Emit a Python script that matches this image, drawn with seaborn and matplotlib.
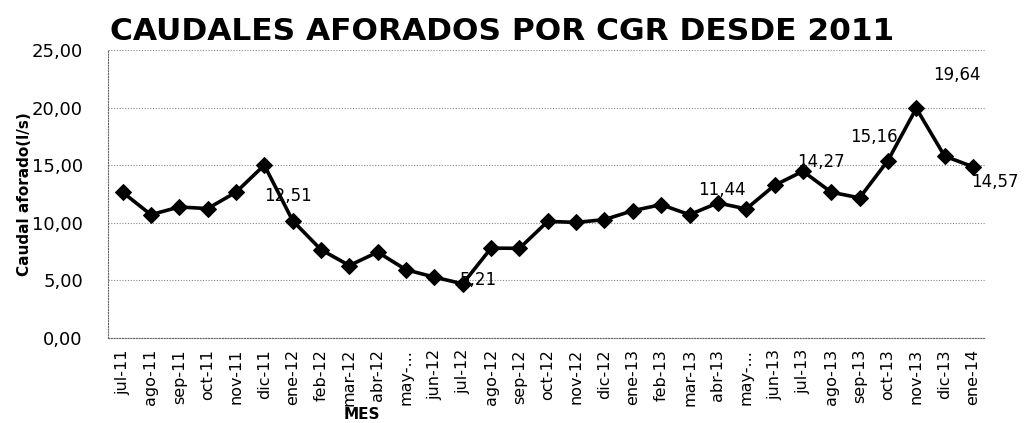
import matplotlib
matplotlib.use("Agg")
import matplotlib.pyplot as plt
import seaborn as sns
from matplotlib.ticker import FuncFormatter

# Datos
meses = ["jul-11", "ago-11", "sep-11", "oct-11", "nov-11", "dic-11",
         "ene-12", "feb-12", "mar-12", "abr-12", "may-...", "jun-12",
         "jul-12", "ago-12", "sep-12", "oct-12", "nov-12", "dic-12",
         "ene-13", "feb-13", "mar-13", "abr-13", "may-...", "jun-13",
         "jul-13", "ago-13", "sep-13", "oct-13", "nov-13", "dic-13", "ene-14"]
caudal = [12.65, 10.70, 11.37, 11.23, 12.65, 15.00,
          10.18, 7.66, 6.29, 7.45, 5.92, 5.28,
          4.70, 7.80, 7.78, 10.12, 10.03, 10.27,
          11.05, 11.57, 10.70, 11.72, 11.20, 13.25,
          14.47, 12.65, 12.16, 15.40, 19.93, 15.78, 14.86]

# etiquetas de datos que aparecen en el gráfico (índice del mes, texto)
etiquetas_idx = [5, 12, 21, 24, 27, 28, 30]
etiquetas_txt = ["12,51", "5,21", "11,44", "14,27", "15,16", "19,64", "14,57"]
# desplazamiento de cada etiqueta en puntos
etiquetas_off = [(17, -22), (11, 3), (3, 9), (13, 7), (-10, 17), (29, 24), (16, -11)]

sns.set_style("white")
plt.rcParams["text.color"] = "black"
plt.rcParams["xtick.color"] = "black"
plt.rcParams["ytick.color"] = "black"
plt.rcParams["axes.labelcolor"] = "black"

fig = plt.figure(figsize=(10.27, 4.23), dpi=100)
ax = fig.add_axes([0.105, 0.201, 0.854, 0.681])

pos = list(range(len(meses)))
sns.lineplot(x=pos, y=caudal, color="black", marker="D", markersize=8,
             markeredgecolor="black", linewidth=2.6, ax=ax)

ax.set_ylim(0, 25)
ax.set_yticks([0, 5, 10, 15, 20, 25])
ax.yaxis.set_major_formatter(FuncFormatter(lambda v, p: f"{v:.2f}".replace(".", ",")))
ax.set_xticks(pos)
ax.set_xticklabels(meses)
ax.set_xlim(-0.52, 30.42)
ax.grid(axis="y", color="#888888", linestyle=(0, (1, 1.5)), linewidth=0.8)
for s in ["top", "right"]:
    ax.spines[s].set_visible(False)
ax.spines["left"].set_linestyle((0, (1, 1.5)))
ax.spines["left"].set_color("#666666")
ax.spines["bottom"].set_linestyle((0, (1, 1.5)))
ax.spines["bottom"].set_color("#666666")
ax.tick_params(axis="y", length=0, labelsize=13, pad=18)
ax.tick_params(axis="x", length=0, labelsize=11.5, rotation=90, pad=8)
ax.set_xlabel("")
ax.set_ylabel("Caudal aforado(l/s)", fontsize=11, fontweight="bold", labelpad=0)

for i, t, off in zip(etiquetas_idx, etiquetas_txt, etiquetas_off):
    ax.annotate(t, (i, caudal[i]), xytext=off, textcoords="offset points",
                ha="center", va="center", fontsize=12)

fig.text(0.107, 0.925, "CAUDALES AFORADOS POR CGR DESDE 2011", fontsize=22.5,
         fontweight="bold", ha="left", va="center")
fig.text(0.352, 0.02, "MES", fontsize=11, fontweight="bold", ha="center", va="center")

fig.savefig("out.png", dpi=100)
